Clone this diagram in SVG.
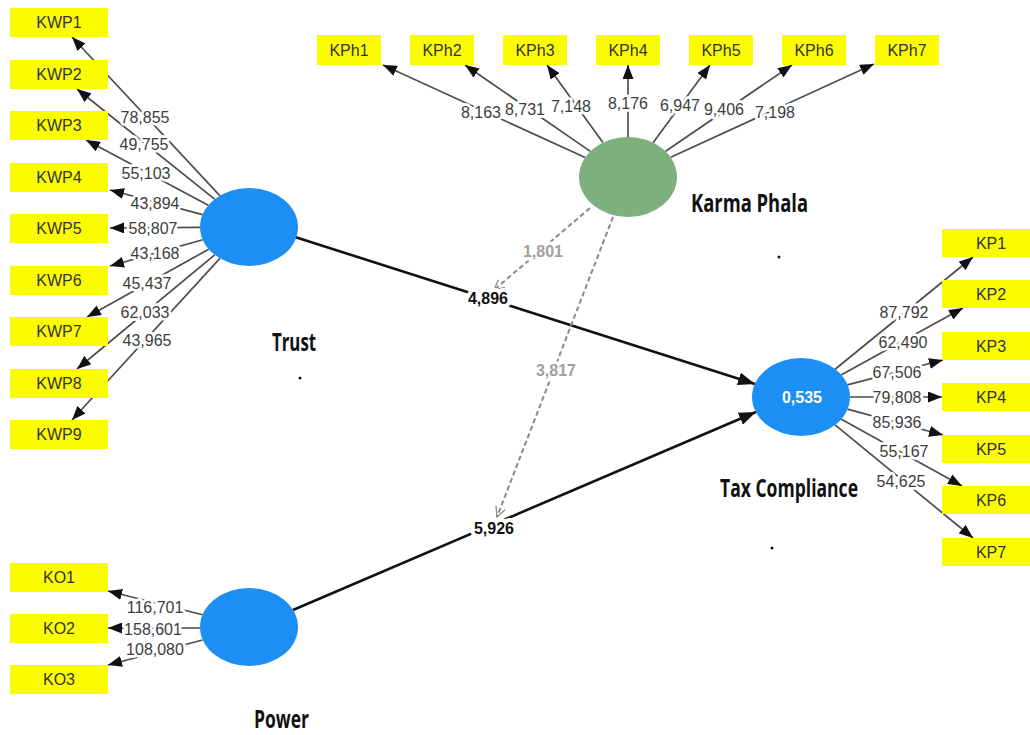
<svg xmlns="http://www.w3.org/2000/svg" width="1030" height="735" viewBox="0 0 1030 735">
<defs>
<style>
.box{fill:#FCFC00}
.bt{font-family:"Liberation Sans",Arial,sans-serif;font-size:16px;fill:#333;text-anchor:middle}
.ind{stroke:#4d4d4d;stroke-width:1.7;fill:none;marker-end:url(#ah)}
.str{stroke:#111;stroke-width:2.6;fill:none;marker-end:url(#ahb)}
.mod{stroke:#8a8a8a;stroke-width:2;stroke-dasharray:5 3;fill:none;marker-end:url(#aho)}
.nl{font-family:"Liberation Sans",Arial,sans-serif;font-size:16px;fill:#3d3d3d;text-anchor:middle;paint-order:stroke;stroke:#fff;stroke-width:5.5px;stroke-linejoin:round}
.sl{font-family:"Liberation Sans",Arial,sans-serif;font-size:16px;font-weight:bold;fill:#111;text-anchor:middle;paint-order:stroke;stroke:#fff;stroke-width:8px;stroke-linejoin:round}
.ml{font-family:"Liberation Sans",Arial,sans-serif;font-size:16px;font-weight:bold;fill:#a0a0a0;text-anchor:middle;paint-order:stroke;stroke:#fff;stroke-width:7px;stroke-linejoin:round}
.lv{font-family:"Open Sans","DejaVu Sans",sans-serif;font-size:25px;font-weight:bold;fill:#111}
.blue{fill:#1B8FF3}
.green{fill:#7EB07E}
.dot{fill:#111}
</style>
<marker id="ah" markerUnits="userSpaceOnUse" viewBox="0 0 14 11" markerWidth="14" markerHeight="11" refX="14" refY="5.5" orient="auto"><path d="M0,0 L14,5.5 L0,11 z" fill="#111"/></marker>
<marker id="ahb" markerUnits="userSpaceOnUse" viewBox="0 0 17 13" markerWidth="17" markerHeight="13" refX="17" refY="6.5" orient="auto"><path d="M0,0 L17,6.5 L0,13 z" fill="#111"/></marker>
<marker id="aho" markerUnits="userSpaceOnUse" viewBox="0 0 12 12" markerWidth="12" markerHeight="12" refX="11" refY="6" orient="auto"><path d="M1,1 L11,6 L1,11" fill="none" stroke="#8a8a8a" stroke-width="1.3"/></marker>
</defs>
<rect width="1030" height="735" fill="#fff"/>

<g id="connectors">
<line class="ind" x1="219.8" y1="195.7" x2="72" y2="37"/>
<line class="ind" x1="214.6" y1="199.2" x2="77" y2="89"/>
<line class="ind" x1="208.3" y1="205.3" x2="86" y2="140"/>
<line class="ind" x1="202.5" y1="214.6" x2="110" y2="190"/>
<line class="ind" x1="200" y1="227.4" x2="110" y2="228"/>
<line class="ind" x1="202.7" y1="239.7" x2="110" y2="266"/>
<line class="ind" x1="208.7" y1="249.2" x2="87" y2="317"/>
<line class="ind" x1="214.7" y1="254.9" x2="77" y2="369"/>
<line class="ind" x1="219.9" y1="258.4" x2="72" y2="420"/>
<line class="ind" x1="585.2" y1="157.6" x2="383" y2="65"/>
<line class="ind" x1="590.4" y1="151.4" x2="465" y2="65"/>
<line class="ind" x1="602.9" y1="142.6" x2="547" y2="65"/>
<line class="ind" x1="628" y1="137" x2="628" y2="65"/>
<line class="ind" x1="653.1" y1="142.7" x2="710" y2="65"/>
<line class="ind" x1="665.6" y1="151.3" x2="792" y2="65"/>
<line class="ind" x1="670.7" y1="157.3" x2="874" y2="64"/>
<line class="ind" x1="834.8" y1="369.5" x2="973" y2="257"/>
<line class="ind" x1="841" y1="375" x2="963" y2="308"/>
<line class="ind" x1="847.4" y1="384.9" x2="943" y2="360"/>
<line class="ind" x1="850" y1="397" x2="942" y2="397"/>
<line class="ind" x1="847.4" y1="409.1" x2="943" y2="435"/>
<line class="ind" x1="840.9" y1="419.1" x2="962" y2="486"/>
<line class="ind" x1="834.7" y1="424.6" x2="973" y2="538"/>
<line class="ind" x1="202.5" y1="614.8" x2="108" y2="591"/>
<line class="ind" x1="200" y1="628" x2="108" y2="628"/>
<line class="ind" x1="202.5" y1="640" x2="108" y2="665"/>
<line class="str" x1="295" y1="237" x2="755" y2="384"/>
<line class="str" x1="293" y1="610" x2="756" y2="412"/>
<line class="mod" x1="590" y1="208" x2="494" y2="290"/>
<line class="mod" x1="613" y1="217" x2="497" y2="517"/>

<text class="nl" x="145" y="123">78,855</text>
<text class="nl" x="144" y="150">49,755</text>
<text class="nl" x="146" y="179">55,103</text>
<text class="nl" x="155" y="209">43,894</text>
<text class="nl" x="153" y="234">58,807</text>
<text class="nl" x="155" y="259">43,168</text>
<text class="nl" x="147" y="289">45,437</text>
<text class="nl" x="145" y="318">62,033</text>
<text class="nl" x="147" y="346">43,965</text>

<text class="nl" x="481" y="118">8,163</text>
<text class="nl" x="525" y="115">8,731</text>
<text class="nl" x="571" y="112">7,148</text>
<text class="nl" x="628" y="109">8,176</text>
<text class="nl" x="680" y="111">6,947</text>
<text class="nl" x="724" y="115">9,406</text>
<text class="nl" x="775" y="118">7,198</text>

<text class="nl" x="904" y="318">87,792</text>
<text class="nl" x="903" y="348">62,490</text>
<text class="nl" x="897" y="378">67,506</text>
<text class="nl" x="897" y="403">79,808</text>
<text class="nl" x="897" y="428">85,936</text>
<text class="nl" x="904" y="457">55,167</text>
<text class="nl" x="901" y="487">54,625</text>

<text class="nl" x="155" y="613">116,701</text>
<text class="nl" x="153" y="635">158,601</text>
<text class="nl" x="155" y="655">108,080</text>

<text class="sl" x="488" y="304">4,896</text>
<text class="sl" x="494" y="534">5,926</text>
<text class="ml" x="543" y="257">1,801</text>
<text class="ml" x="556" y="376">3,817</text>
</g>

<g id="trust"><ellipse class="blue" cx="249" cy="227" rx="49" ry="39"/><text class="lv" transform="translate(272 351) scale(0.71 1)" x="0" y="0" textLength="62" lengthAdjust="spacingAndGlyphs">Trust</text><circle class="dot" cx="300" cy="378" r="1.5"/></g>
<g id="power"><ellipse class="blue" cx="249" cy="627" rx="49" ry="39"/><text class="lv" transform="translate(254 728) scale(0.71 1)" x="0" y="0" textLength="77.5" lengthAdjust="spacingAndGlyphs">Power</text></g>
<g id="karma-phala"><ellipse class="green" cx="628" cy="177" rx="49" ry="40"/><text class="lv" transform="translate(691 212) scale(0.75 1)" x="0" y="0" textLength="156" lengthAdjust="spacingAndGlyphs">Karma Phala</text><circle class="dot" cx="779" cy="257" r="1.5"/></g>
<g id="tax-compliance"><ellipse class="blue" cx="801" cy="397" rx="49" ry="39"/><text x="802" y="403" font-family="Liberation Sans,Arial,sans-serif" font-size="16" font-weight="bold" fill="#fff" text-anchor="middle">0,535</text><text class="lv" transform="translate(720 497) scale(0.715 1)" x="0" y="0" textLength="193" lengthAdjust="spacingAndGlyphs">Tax Compliance</text><circle class="dot" cx="772" cy="548" r="1.5"/></g>

<g id="KWP1"><rect class="box" x="10" y="8" width="98" height="29"/><text class="bt" x="59" y="28">KWP1</text></g>
<g id="KWP2"><rect class="box" x="10" y="60" width="98" height="29"/><text class="bt" x="59" y="80">KWP2</text></g>
<g id="KWP3"><rect class="box" x="10" y="111" width="98" height="29"/><text class="bt" x="59" y="131">KWP3</text></g>
<g id="KWP4"><rect class="box" x="10" y="163" width="98" height="29"/><text class="bt" x="59" y="183">KWP4</text></g>
<g id="KWP5"><rect class="box" x="10" y="214" width="98" height="29"/><text class="bt" x="59" y="234">KWP5</text></g>
<g id="KWP6"><rect class="box" x="10" y="266" width="98" height="29"/><text class="bt" x="59" y="286">KWP6</text></g>
<g id="KWP7"><rect class="box" x="10" y="317" width="98" height="29"/><text class="bt" x="59" y="337">KWP7</text></g>
<g id="KWP8"><rect class="box" x="10" y="369" width="98" height="29"/><text class="bt" x="59" y="389">KWP8</text></g>
<g id="KWP9"><rect class="box" x="10" y="420" width="98" height="29"/><text class="bt" x="59" y="440">KWP9</text></g>

<g id="KPh1"><rect class="box" x="317" y="35" width="64" height="30"/><text class="bt" x="349" y="56">KPh1</text></g>
<g id="KPh2"><rect class="box" x="410" y="35" width="64" height="30"/><text class="bt" x="442" y="56">KPh2</text></g>
<g id="KPh3"><rect class="box" x="503" y="35" width="64" height="30"/><text class="bt" x="535" y="56">KPh3</text></g>
<g id="KPh4"><rect class="box" x="596" y="35" width="64" height="30"/><text class="bt" x="628" y="56">KPh4</text></g>
<g id="KPh5"><rect class="box" x="689" y="35" width="64" height="30"/><text class="bt" x="721" y="56">KPh5</text></g>
<g id="KPh6"><rect class="box" x="782" y="35" width="64" height="30"/><text class="bt" x="814" y="56">KPh6</text></g>
<g id="KPh7"><rect class="box" x="875" y="35" width="64" height="30"/><text class="bt" x="907" y="56">KPh7</text></g>

<g id="KP1"><rect class="box" x="942" y="229" width="98" height="28"/><text class="bt" x="991" y="249">KP1</text></g>
<g id="KP2"><rect class="box" x="942" y="280" width="98" height="28"/><text class="bt" x="991" y="300">KP2</text></g>
<g id="KP3"><rect class="box" x="942" y="332" width="98" height="28"/><text class="bt" x="991" y="352">KP3</text></g>
<g id="KP4"><rect class="box" x="942" y="383" width="98" height="28"/><text class="bt" x="991" y="403">KP4</text></g>
<g id="KP5"><rect class="box" x="942" y="435" width="98" height="28"/><text class="bt" x="991" y="455">KP5</text></g>
<g id="KP6"><rect class="box" x="942" y="486" width="98" height="28"/><text class="bt" x="991" y="506">KP6</text></g>
<g id="KP7"><rect class="box" x="942" y="538" width="98" height="28"/><text class="bt" x="991" y="558">KP7</text></g>

<g id="KO1"><rect class="box" x="10" y="563" width="98" height="29"/><text class="bt" x="59" y="583">KO1</text></g>
<g id="KO2"><rect class="box" x="10" y="614" width="98" height="29"/><text class="bt" x="59" y="634">KO2</text></g>
<g id="KO3"><rect class="box" x="10" y="665" width="98" height="29"/><text class="bt" x="59" y="685">KO3</text></g>
</svg>
